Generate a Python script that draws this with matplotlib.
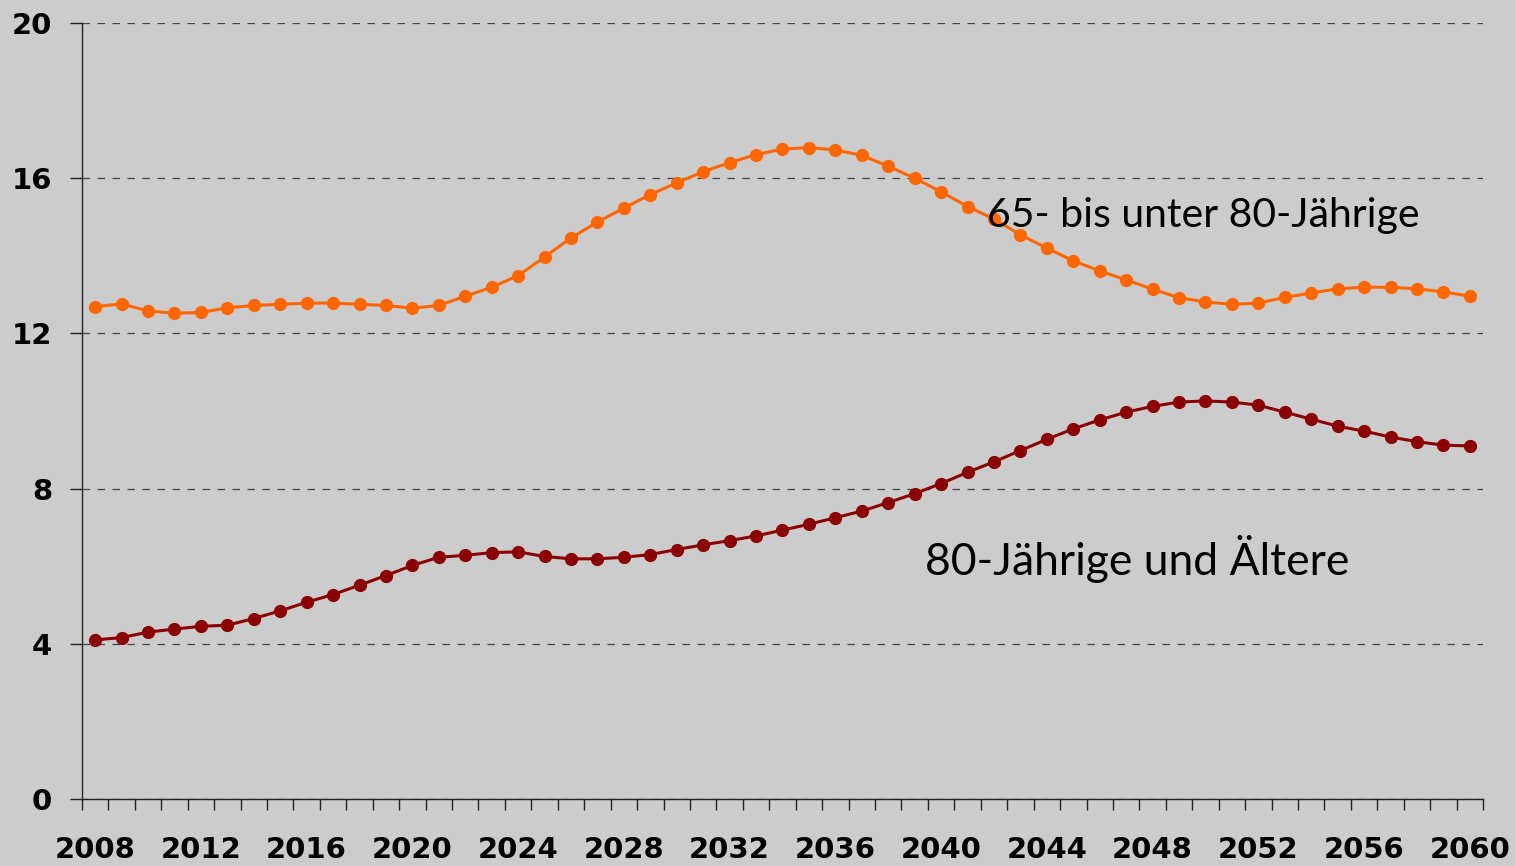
import numpy as np
import matplotlib
matplotlib.use("Agg")
import matplotlib.pyplot as plt
from matplotlib.ticker import FixedLocator

# Anteil an der Bevoelkerung in %
years = list(range(2008, 2061))

age_65_80 = [12.69, 12.76, 12.58, 12.52, 12.54, 12.66, 12.72, 12.75, 12.78, 12.78,
             12.75, 12.72, 12.65, 12.72, 12.96, 13.19, 13.49, 13.97, 14.46, 14.87,
             15.23, 15.58, 15.88, 16.17, 16.40, 16.61, 16.75, 16.79, 16.73, 16.59,
             16.31, 16.00, 15.65, 15.27, 14.95, 14.54, 14.20, 13.87, 13.61, 13.38,
             13.14, 12.92, 12.81, 12.75, 12.78, 12.93, 13.04, 13.15, 13.19, 13.19,
             13.15, 13.07, 12.96]

age_80_plus = [4.10, 4.16, 4.30, 4.38, 4.45, 4.48, 4.65, 4.85, 5.07, 5.27,
               5.51, 5.76, 6.02, 6.23, 6.28, 6.35, 6.37, 6.25, 6.19, 6.19,
               6.23, 6.30, 6.43, 6.55, 6.66, 6.78, 6.93, 7.08, 7.25, 7.42,
               7.64, 7.87, 8.13, 8.42, 8.69, 8.98, 9.27, 9.54, 9.77, 9.97,
               10.12, 10.23, 10.26, 10.23, 10.15, 9.97, 9.79, 9.61, 9.48, 9.33,
               9.21, 9.12, 9.10]

label_years = list(range(2008, 2061, 4))
y_ticks = [0, 4, 8, 12, 16, 20]

bg = "#cccccc"
fig = plt.figure(figsize=(15.15, 8.66), dpi=100, facecolor=bg)
ax = fig.add_axes([0.0541, 0.0774, 0.9248, 0.896])
ax.set_facecolor(bg)

ax.plot(years, age_65_80, color="#ff6600", lw=2.2, marker="o", ms=8.5, zorder=3)
ax.plot(years, age_80_plus, color="#8b0000", lw=2.2, marker="o", ms=8.5, zorder=3)

ax.set_xlim(2007.5, 2060.5)
ax.set_ylim(0, 20)

# x axis: labels every 4th year, tick marks between the categories
ax.set_xticks(label_years)
ax.set_xticklabels([str(y) for y in label_years])
ax.xaxis.set_minor_locator(FixedLocator(np.arange(2007.5, 2061, 1)))
ax.tick_params(axis="x", which="major", length=0, pad=27)
ax.tick_params(axis="x", which="minor", length=8, width=1, color="#222222", direction="out")

ax.set_yticks(y_ticks)
ax.tick_params(axis="y", which="major", length=8.6, width=1, color="#222222", pad=13)

for lab in ax.get_xticklabels() + ax.get_yticklabels():
    lab.set_fontweight("bold")
    lab.set_fontsize(21)
    lab.set_family("DejaVu Sans")

ax.grid(axis="y", color="#444444", linestyle=(0, (6, 6)), linewidth=0.9)
ax.set_axisbelow(True)

for s in ["top", "right"]:
    ax.spines[s].set_visible(False)
for s in ["left", "bottom"]:
    ax.spines[s].set_color("#222222")
    ax.spines[s].set_linewidth(1)

fam = ["Lato", "DejaVu Sans"]
ax.text(2041.74, 14.74, "65- bis unter 80-Jährige", fontsize=29.5, family=fam,
        ha="left", va="baseline", color="black", zorder=4)
ax.text(2039.4, 5.77, "80-Jährige und Ältere", fontsize=32, family=fam,
        ha="left", va="baseline", color="black", zorder=4)

fig.savefig("out.png", dpi=100, facecolor=bg)
